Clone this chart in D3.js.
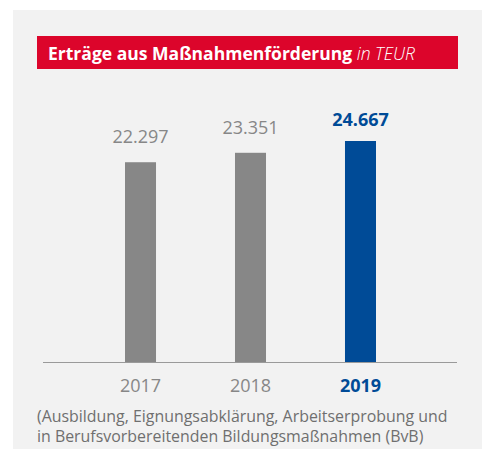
<!DOCTYPE html>
<html>
<head>
<meta charset="utf-8">
<script src="https://cdn.jsdelivr.net/npm/d3@7"></script>
<style>
  body { margin: 0; background: #fff; }
  svg { display: block; }
</style>
</head>
<body>
<div id="chart"></div>
<script>
// Erträge aus Maßnahmenförderung, in TEUR

const years = ["2017", "2018", "2019"]
const values = [22297, 23351, 24667]
const valueLabels = ["22.297", "23.351", "24.667"]
const captionLines = [
  "(Ausbildung, Eignungsabklärung, Arbeitserprobung und",
  "in Berufsvorbereitenden Bildungsmaßnahmen (BvB)"
]

const W = 485, H = 451
const grey = "#878787", blue = "#004b97", red = "#dc052b"
const font = "'Open Sans', sans-serif"

const svg = d3.select("#chart").append("svg")
  .attr("width", W).attr("height", H)

// shrink/grow font so a text node spans roughly the given width
function fitWidth(sel, target, size) {
  const w = sel.node().getComputedTextLength()
  sel.style("font-size", (size * target / w).toFixed(2) + "px")
}

// panel
svg.append("rect")
  .attr("x", 13).attr("y", 10)
  .attr("width", 469).attr("height", 439)
  .attr("fill", "#f2f2f2")

// title bar
svg.append("rect")
  .attr("x", 37).attr("y", 36)
  .attr("width", 421).attr("height", 33)
  .attr("fill", red)

const title = svg.append("text")
  .attr("x", 48).attr("y", 60)
  .attr("fill", "#fff")
  .style("font-family", font)
  .style("font-size", "16px")
title.append("tspan").attr("font-weight", 700).text("Erträge aus Maßnahmenförderung ")
title.append("tspan").attr("font-style", "italic").attr("font-weight", 300).text("in TEUR")
fitWidth(title, 367, 16)

const x = d3.scaleBand()
  .domain(years)
  .range([125, 376])
  .paddingInner(0.718)
  .paddingOuter(0)

const y = d3.scaleLinear()
  .domain([0, 24667])
  .range([362, 141])

const isLast = (d, i) => i === years.length - 1

svg.selectAll("rect.bar")
  .data(values)
  .join("rect")
  .attr("class", "bar")
  .attr("x", (d, i) => x(years[i]))
  .attr("width", x.bandwidth())
  .attr("y", d => y(d))
  .attr("height", d => y(0) - y(d))
  .attr("fill", (d, i) => isLast(d, i) ? blue : grey)

// baseline
svg.append("line")
  .attr("x1", 43).attr("x2", 457)
  .attr("y1", y(0) + 0.5).attr("y2", y(0) + 0.5)
  .attr("stroke", "#9a9a9a")
  .attr("stroke-width", 1)

svg.selectAll("text.val")
  .data(values)
  .join("text")
  .attr("class", "val")
  .attr("x", (d, i) => x(years[i]) + x.bandwidth() / 2)
  .attr("y", (d, i) => y(d) - (isLast(d, i) ? 15 : 19))
  .attr("text-anchor", "middle")
  .attr("fill", (d, i) => isLast(d, i) ? blue : grey)
  .attr("font-weight", (d, i) => isLast(d, i) ? 700 : 400)
  .style("font-family", font)
  .style("font-size", "18px")
  .text((d, i) => valueLabels[i])

svg.selectAll("text.year")
  .data(years)
  .join("text")
  .attr("class", "year")
  .attr("x", d => x(d) + x.bandwidth() / 2)
  .attr("y", 392)
  .attr("text-anchor", "middle")
  .attr("fill", (d, i) => isLast(d, i) ? blue : grey)
  .attr("font-weight", (d, i) => isLast(d, i) ? 700 : 400)
  .style("font-family", font)
  .style("font-size", "18px")
  .text(d => d)

const cap = svg.selectAll("text.caption")
  .data(captionLines)
  .join("text")
  .attr("class", "caption")
  .attr("x", 37)
  .attr("y", (d, i) => 422 + i * 20)
  .attr("fill", "#6f6f6f")
  .style("font-family", font)
  .style("font-size", "15px")
  .text(d => d)
fitWidth(cap.filter((d, i) => i === 0), 411, 15)
cap.style("font-size", cap.filter((d, i) => i === 0).style("font-size"))
</script>
</body>
</html>
